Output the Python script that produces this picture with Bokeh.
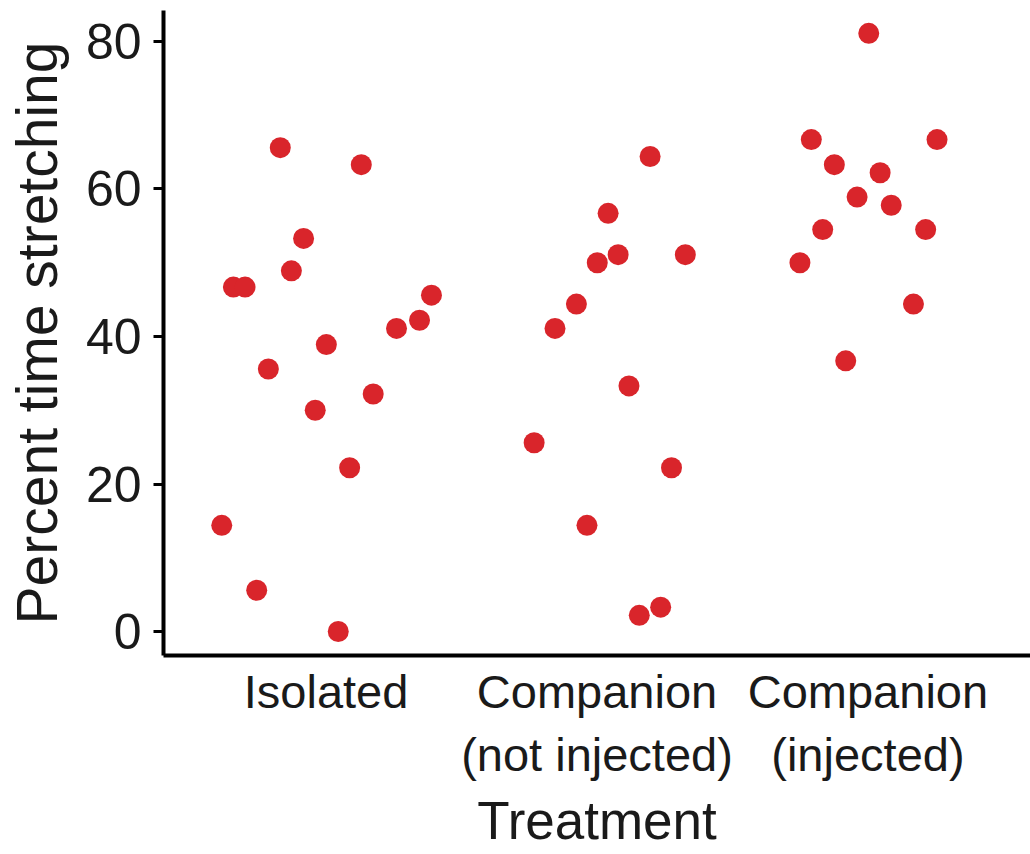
from bokeh.plotting import figure
from bokeh.models import Range1d, FixedTicker, ColumnDataSource
from bokeh.embed import file_html
from bokeh.resources import INLINE

# Treatment groups (tick labels on the x axis)
treatments = ["Isolated", "Companion\n(not injected)", "Companion\n(injected)"]

# Percent of time spent stretching, one value per animal, in plotted order
isolated_pct = [14.4, 46.7, 46.7, 5.6, 35.6, 65.6, 48.9, 53.3, 30.0, 38.9,
                0.0, 22.2, 63.3, 32.2, 41.1, 42.2, 45.6]
not_injected_pct = [25.6, 41.1, 44.4, 14.4, 50.0, 56.7, 51.1, 33.3, 2.2,
                    64.4, 3.3, 22.2, 51.1]
injected_pct = [50.0, 66.7, 54.5, 63.3, 36.7, 58.9, 81.1, 62.2, 57.8,
                44.4, 54.5, 66.7]

# Horizontal jitter of each point around its group centre (in group units)
isolated_jitter = [-0.385, -0.342, -0.299, -0.256, -0.213, -0.169, -0.128,
                   -0.083, -0.040, 0.001, 0.045, 0.087, 0.130, 0.174, 0.260,
                   0.345, 0.389]
not_injected_jitter = [-0.232, -0.155, -0.076, -0.037, 0.001, 0.041, 0.078,
                       0.118, 0.156, 0.196, 0.235, 0.275, 0.326]
injected_jitter = [-0.251, -0.209, -0.167, -0.124, -0.082, -0.040, 0.003,
                   0.045, 0.086, 0.168, 0.213, 0.255]

groups = [
    (isolated_pct, isolated_jitter),
    (not_injected_pct, not_injected_jitter),
    (injected_pct, injected_jitter),
]

xs, ys = [], []
for i, (vals, jit) in enumerate(groups, start=1):
    xs += [i + j for j in jit]
    ys += vals

source = ColumnDataSource(data=dict(x=xs, y=ys))

FONT = "Liberation Sans"
INK = "#1a1a1a"

p = figure(
    width=1030, height=854,
    output_backend="svg", toolbar_location=None,
    x_range=Range1d(0.4, 3.6), y_range=Range1d(-3.25, 84.2),
    min_border_left=163, min_border_right=0,
    min_border_top=10, min_border_bottom=199,
)
p.outline_line_color = None
p.background_fill_color = "white"
p.border_fill_color = "white"
p.xgrid.visible = False
p.ygrid.visible = False

p.scatter("x", "y", source=source, size=21, marker="circle",
          fill_color="#D9252B", line_color=None)

# y axis
p.yaxis.ticker = FixedTicker(ticks=[0, 20, 40, 60, 80])
p.yaxis.axis_label = "Percent time stretching"
p.yaxis.axis_label_text_font = FONT
p.yaxis.axis_label_text_font_size = "57px"
p.yaxis.axis_label_text_font_style = "normal"
p.yaxis.axis_label_text_color = INK
p.yaxis.axis_label_standoff = 14
p.yaxis.major_label_text_font = FONT
p.yaxis.major_label_text_font_size = "50px"
p.yaxis.major_label_text_color = INK
p.yaxis.major_label_standoff = 12
p.yaxis.major_tick_out = 10
p.yaxis.major_tick_in = 0
p.yaxis.major_tick_line_width = 3
p.yaxis.minor_tick_line_color = None
p.yaxis.axis_line_width = 4
p.yaxis.axis_line_color = "black"

# x axis
p.xaxis.ticker = FixedTicker(ticks=[1, 2, 3])
p.xaxis.major_label_overrides = {1: treatments[0], 2: treatments[1], 3: treatments[2]}
p.xaxis.axis_label = "Treatment"
p.xaxis.axis_label_text_font = FONT
p.xaxis.axis_label_text_font_size = "53px"
p.xaxis.axis_label_text_font_style = "normal"
p.xaxis.axis_label_text_color = INK
p.xaxis.axis_label_standoff = 7
p.xaxis.major_label_text_font = FONT
p.xaxis.major_label_text_font_size = "47px"
p.xaxis.major_label_text_color = INK
p.xaxis.major_label_standoff = 9
p.xaxis.major_tick_out = 0
p.xaxis.major_tick_in = 0
p.xaxis.major_tick_line_color = None
p.xaxis.minor_tick_line_color = None
p.xaxis.axis_line_width = 4
p.xaxis.axis_line_color = "black"

open("out.html", "w").write(file_html(p, INLINE))
